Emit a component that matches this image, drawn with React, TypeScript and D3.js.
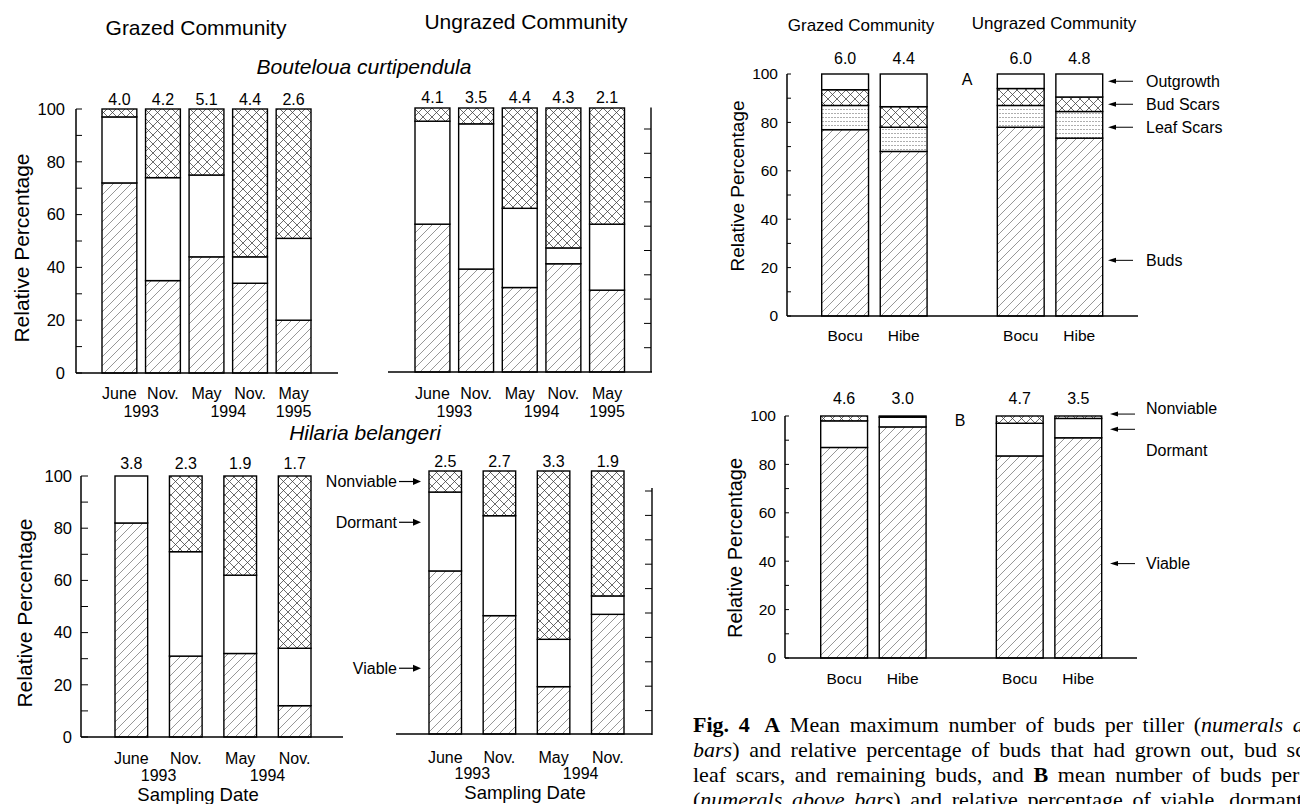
import React from "react";
import * as d3 from "d3";

const SANS = "'Liberation Sans', Arial, Helvetica, sans-serif";
const SERIF = "'Liberation Serif', 'Times New Roman', serif";

// ---- data ----
const bocuDates = ["June", "Nov.", "May", "Nov.", "May"];
const bocuYears: [string, number, number][] = [["1993", 0, 1], ["1994", 2, 3], ["1995", 4, 4]];
const hibeDates = ["June", "Nov.", "May", "Nov."];
const hibeYears: [string, number, number][] = [["1993", 0, 1], ["1994", 2, 3]];

const bocuGrazedViable = [72, 35, 44, 34, 20];
const bocuGrazedDormant = [25, 39, 31, 10, 31];
const bocuGrazedNonviable = [3, 26, 25, 56, 49];
const bocuGrazedMean = ["4.0", "4.2", "5.1", "4.4", "2.6"];

const bocuUngrazedViable = [56, 39, 32, 41, 31];
const bocuUngrazedDormant = [39, 55, 30, 6, 25];
const bocuUngrazedNonviable = [5, 6, 38, 53, 44];
const bocuUngrazedMean = ["4.1", "3.5", "4.4", "4.3", "2.1"];

const hibeGrazedViable = [82, 31, 32, 12];
const hibeGrazedDormant = [18, 40, 30, 22];
const hibeGrazedNonviable = [0, 29, 38, 66];
const hibeGrazedMean = ["3.8", "2.3", "1.9", "1.7"];

const hibeUngrazedViable = [62, 45, 18, 45.5];
const hibeUngrazedDormant = [30, 38, 18, 7];
const hibeUngrazedNonviable = [8, 17, 64, 47.5];
const hibeUngrazedMean = ["2.5", "2.7", "3.3", "1.9"];

const communities = ["Grazed Community", "Ungrazed Community"];
const speciesCodes = ["Bocu", "Hibe"];

const budsA = [77, 68, 78, 73.5];
const leafScarsA = [10, 10, 9, 11];
const budScarsA = [6.5, 8.5, 7, 6];
const outgrowthA = [6.5, 13.5, 6, 9.5];
const meanA = ["6.0", "4.4", "6.0", "4.8"];

const viableB = [87, 95.5, 83.5, 91];
const dormantB = [11, 4, 13.5, 8];
const nonviableB = [2, 0.5, 3, 1];
const meanB = ["4.6", "3.0", "4.7", "3.5"];

const hibeArrowLabels = ["Nonviable", "Dormant", "Viable"];
const hibeArrowLevels = [96, 80.5, 25];
const aLabels = ["Outgrowth", "Bud Scars", "Leaf Scars", "Buds"];
const aLevels = [97, 87.5, 78, 23];
const bLabels = ["Nonviable", "Dormant", "Viable"];
const bLabelLevels = [103, 85.6, 39];
const bArrowLevels = [100.8, 94.5, 39];

const captionLines = [
  [["b", "Fig. 4"], ["B", " A"], ["n", " Mean maximum number of buds per tiller ("], ["i", "numerals above"]],
  [["i", "bars"], ["n", ") and relative percentage of buds that had grown out, bud scars,"]],
  [["n", "leaf scars, and remaining buds, and "], ["b", "B"], ["n", " mean number of buds per tiller"]],
  [["n", "("], ["i", "numerals above bars"], ["n", ") and relative percentage of viable, dormant"]],
];

// ---- scales ----
const yTL = d3.scaleLinear().domain([0, 100]).range([373, 109]);
const xTL = d3.scaleBand<number>().domain(d3.range(5)).range([102, 311]).paddingInner(0.2);
const yTM = d3.scaleLinear().domain([0, 100]).range([372, 108]);
const xTM = d3.scaleBand<number>().domain(d3.range(5)).range([415, 624.5]).paddingInner(0.2);
const yTMr = d3.scaleLinear().domain([0, 100]).range([372, 129]);
const yBL = d3.scaleLinear().domain([0, 100]).range([737, 476]);
const xBL = d3.scaleBand<number>().domain(d3.range(4)).range([115, 311]).paddingInner(0.4);
const yBM = d3.scaleLinear().domain([0, 100]).range([734, 471]);
const xBM = d3.scaleBand<number>().domain(d3.range(4)).range([429, 624]).paddingInner(0.4);
const yBMr = d3.scaleLinear().domain([0, 100]).range([735, 491]);

const yRA = d3.scaleLinear().domain([0, 100]).range([316, 74]);
const gRA = d3.scaleBand<number>().domain([0, 1]).range([821.7, 1102.7]).paddingInner(0.4);
const yRB = d3.scaleLinear().domain([0, 100]).range([658, 416]);
const gRB = d3.scaleBand<number>().domain([0, 1]).range([820.7, 1101.7]).paddingInner(0.4);
const inner = (g: d3.ScaleBand<number>) =>
  d3.scaleBand<number>().domain([0, 1]).range([0, g.bandwidth()]).paddingInner(0.2);

const TICKS = d3.range(0, 101, 10);

type Layer = { values: number[]; fill: string };

function Bars({ layers, xPos, bw, y }: { layers: Layer[]; xPos: (i: number) => number; bw: number; y: d3.ScaleLinear<number, number> }) {
  const n = layers[0].values.length;
  const keys = layers.map((_, k) => "k" + k);
  const rows = d3.range(n).map((i) => Object.fromEntries(layers.map((l, k) => ["k" + k, l.values[i]])));
  const stacked = d3.stack<any>().keys(keys)(rows);
  return (
    <g>
      {stacked.map((s, k) =>
        s.map((d, i) =>
          d[1] - d[0] > 0 ? (
            <rect key={k + "-" + i} x={xPos(i)} width={bw} y={y(d[1])} height={y(d[0]) - y(d[1])}
              fill={layers[k].fill} stroke="#000" strokeWidth={1.4} />
          ) : null
        )
      )}
    </g>
  );
}

function LeftAxis({ x, y, tickLen, fontSize, gap }: any) {
  return (
    <g>
      <line x1={x} x2={x} y1={y(0)} y2={y(100)} stroke="#000" strokeWidth={1.5} />
      {TICKS.map((t) => (
        <g key={t}>
          <line x1={x} x2={x + tickLen} y1={y(t)} y2={y(t)} stroke="#000" strokeWidth={1} />
          {t % 20 === 0 && (
            <text x={x - gap} y={y(t)} dy="0.35em" textAnchor="end" fontSize={fontSize}>{t}</text>
          )}
        </g>
      ))}
    </g>
  );
}

function RightTicks({ x, y, top }: any) {
  return (
    <g>
      <line x1={x} x2={x} y1={y(0)} y2={top} stroke="#000" strokeWidth={1.4} />
      {TICKS.slice(1).map((t) => (
        <line key={t} x1={x - 7} x2={x} y1={y(t)} y2={y(t)} stroke="#000" strokeWidth={1} />
      ))}
    </g>
  );
}

function YTitle({ x, y, size, children }: any) {
  return (
    <text transform={`translate(${x},${y}) rotate(-90)`} dy="0.35em" textAnchor="middle" fontSize={size}>{children}</text>
  );
}

function ArrowRight({ x1, x2, y }: any) {
  return (
    <g>
      <line x1={x1} x2={x2 - 6} y1={y} y2={y} stroke="#000" strokeWidth={1.2} />
      <path d={`M${x2},${y} L${x2 - 8},${y - 3.5} L${x2 - 8},${y + 3.5} Z`} fill="#000" />
    </g>
  );
}

function ArrowLeft({ x1, x2, y }: any) {
  return (
    <g>
      <line x1={x1 + 6} x2={x2} y1={y} y2={y} stroke="#000" strokeWidth={1} />
      <path d={`M${x1},${y} L${x1 + 8},${y - 2.5} L${x1 + 8},${y + 2.5} Z`} fill="#000" />
    </g>
  );
}

function DatePanel({ x, y, dates, years, means, viable, dormant, nonviable, axisFrom, axisTo, meanOff, dateOff, yearOff }: any) {
  const bw = x.bandwidth();
  const cx = (i: number) => x(i) + bw / 2;
  return (
    <g>
      <Bars xPos={(i) => x(i)} bw={bw} y={y}
        layers={[{ values: viable, fill: "url(#hatch)" }, { values: dormant, fill: "#fff" }, { values: nonviable, fill: "url(#cross)" }]} />
      <line x1={axisFrom} x2={axisTo} y1={y(0)} y2={y(0)} stroke="#000" strokeWidth={1.6} />
      {means.map((m: string, i: number) => (
        <text key={i} x={cx(i)} y={y(100) - meanOff} dy="0.35em" textAnchor="middle" fontSize={16}>{m}</text>
      ))}
      {dates.map((d: string, i: number) => (
        <text key={i} x={cx(i)} y={y(0) + dateOff} dy="0.35em" textAnchor="middle" fontSize={16}>{d}</text>
      ))}
      {years.map(([lab, a, b]: any) => (
        <text key={lab} x={(cx(a) + cx(b)) / 2} y={y(0) + yearOff} dy="0.35em" textAnchor="middle" fontSize={16}>{lab}</text>
      ))}
    </g>
  );
}

function SpeciesPanel({ g, y, layers, means, axisX, axisTo, meanOff, labOff }: any) {
  const inn = inner(g);
  const xPos = (i: number) => g(Math.floor(i / 2)) + inn(i % 2);
  const bw = inn.bandwidth();
  return (
    <g>
      <Bars xPos={xPos} bw={bw} y={y} layers={layers} />
      <line x1={axisX} x2={axisTo} y1={y(0)} y2={y(0)} stroke="#000" strokeWidth={1.6} />
      <LeftAxis x={axisX} y={y} tickLen={4} fontSize={15.5} gap={9} />
      {means.map((m: string, i: number) => (
        <text key={i} x={xPos(i) + bw / 2} y={y(100) - meanOff} dy="0.35em" textAnchor="middle" fontSize={16}>{m}</text>
      ))}
      {means.map((_: string, i: number) => (
        <text key={i} x={xPos(i) + bw / 2} y={y(0) + labOff} dy="0.35em" textAnchor="middle" fontSize={15.5}>{speciesCodes[i % 2]}</text>
      ))}
    </g>
  );
}

export default function App() {
  return (
    <div style={{ position: "absolute", left: 0, top: 0 }}>
      <svg width={1300} height={804} style={{ display: "block", background: "#fff" }} fontFamily={SANS} fill="#000">
        <defs>
          <pattern id="hatch" patternUnits="userSpaceOnUse" width={9} height={9}>
            <rect width={9} height={9} fill="#fff" />
            <path d="M-1,1 L1,-1 M0,9 L9,0 M8,10 L10,8" stroke="#6a6a6a" strokeWidth={0.7} />
          </pattern>
          <pattern id="cross" patternUnits="userSpaceOnUse" width={9} height={9}>
            <rect width={9} height={9} fill="#fff" />
            <path d="M0,0 L9,9 M9,0 L0,9" stroke="#3a3a3a" strokeWidth={0.75} />
          </pattern>
          <pattern id="leaf" patternUnits="userSpaceOnUse" width={3} height={4}>
            <rect width={3} height={4} fill="#fff" />
            <rect x={0} y={1} width={2} height={0.8} fill="#9a9a9a" />
          </pattern>
        </defs>

        {/* titles */}
        <text x={196} y={28} dy="0.35em" textAnchor="middle" fontSize={21}>{communities[0]}</text>
        <text x={526} y={22} dy="0.35em" textAnchor="middle" fontSize={21}>{communities[1]}</text>
        <text x={364} y={67} dy="0.35em" textAnchor="middle" fontSize={21} fontStyle="italic">Bouteloua curtipendula</text>
        <text x={365} y={433} dy="0.35em" textAnchor="middle" fontSize={21} fontStyle="italic">Hilaria belangeri</text>

        {/* Bouteloua grazed */}
        <DatePanel x={xTL} y={yTL} dates={bocuDates} years={bocuYears} means={bocuGrazedMean}
          viable={bocuGrazedViable} dormant={bocuGrazedDormant} nonviable={bocuGrazedNonviable}
          axisFrom={76} axisTo={338} meanOff={10} dateOff={20} yearOff={38} />
        <LeftAxis x={76} y={yTL} tickLen={6} fontSize={16.5} gap={11} />
        <YTitle x={22} y={248} size={21}>Relative Percentage</YTitle>

        {/* Bouteloua ungrazed */}
        <DatePanel x={xTM} y={yTM} dates={bocuDates} years={bocuYears} means={bocuUngrazedMean}
          viable={bocuUngrazedViable} dormant={bocuUngrazedDormant} nonviable={bocuUngrazedNonviable}
          axisFrom={388} axisTo={652} meanOff={11} dateOff={21} yearOff={39} />
        <RightTicks x={651} y={yTMr} top={107.5} />

        {/* Hilaria grazed */}
        <DatePanel x={xBL} y={yBL} dates={hibeDates} years={hibeYears} means={hibeGrazedMean}
          viable={hibeGrazedViable} dormant={hibeGrazedDormant} nonviable={hibeGrazedNonviable}
          axisFrom={81} axisTo={343} meanOff={13} dateOff={21} yearOff={38} />
        <LeftAxis x={81} y={yBL} tickLen={7} fontSize={16.5} gap={9} />
        <YTitle x={25} y={613} size={21}>Relative Percentage</YTitle>
        <text x={198} y={795} dy="0.35em" textAnchor="middle" fontSize={18.5}>Sampling Date</text>

        {/* Hilaria ungrazed */}
        <DatePanel x={xBM} y={yBM} dates={hibeDates} years={hibeYears} means={hibeUngrazedMean}
          viable={hibeUngrazedViable} dormant={hibeUngrazedDormant} nonviable={hibeUngrazedNonviable}
          axisFrom={396} axisTo={652} meanOff={10} dateOff={23} yearOff={39} />
        <RightTicks x={652} y={yBMr} top={488} />
        <text x={525} y={793} dy="0.35em" textAnchor="middle" fontSize={18.5}>Sampling Date</text>
        {hibeArrowLabels.map((lab, i) => (
          <g key={lab}>
            <text x={397} y={yBM(hibeArrowLevels[i])} dy="0.35em" textAnchor="end" fontSize={16}>{lab}</text>
            <ArrowRight x1={399} x2={421} y={yBM(hibeArrowLevels[i])} />
          </g>
        ))}

        {/* Panel A */}
        <text x={861} y={25} dy="0.35em" textAnchor="middle" fontSize={17}>{communities[0]}</text>
        <text x={1054} y={23} dy="0.35em" textAnchor="middle" fontSize={17}>{communities[1]}</text>
        <SpeciesPanel g={gRA} y={yRA} means={meanA} axisX={787} axisTo={1138} meanOff={16} labOff={20}
          layers={[
            { values: budsA, fill: "url(#hatch)" },
            { values: leafScarsA, fill: "url(#leaf)" },
            { values: budScarsA, fill: "url(#cross)" },
            { values: outgrowthA, fill: "#fff" },
          ]} />
        <text x={967} y={79} dy="0.35em" textAnchor="middle" fontSize={16}>A</text>
        <YTitle x={737} y={186} size={19}>Relative Percentage</YTitle>
        {aLabels.map((lab, i) => (
          <g key={lab}>
            <ArrowLeft x1={1108} x2={1133} y={yRA(aLevels[i])} />
            <text x={1146} y={yRA(aLevels[i])} dy="0.35em" fontSize={16}>{lab}</text>
          </g>
        ))}

        {/* Panel B */}
        <SpeciesPanel g={gRB} y={yRB} means={meanB} axisX={785} axisTo={1137} meanOff={18} labOff={21}
          layers={[
            { values: viableB, fill: "url(#hatch)" },
            { values: dormantB, fill: "#fff" },
            { values: nonviableB, fill: "url(#cross)" },
          ]} />
        <text x={960} y={420} dy="0.35em" textAnchor="middle" fontSize={16}>B</text>
        <YTitle x={735} y={548} size={20}>Relative Percentage</YTitle>
        {bArrowLevels.map((lv, i) => (
          <ArrowLeft key={i} x1={1110} x2={1135} y={yRB(lv)} />
        ))}
        {bLabels.map((lab, i) => (
          <text key={lab} x={1146} y={yRB(bLabelLevels[i])} dy="0.35em" fontSize={16}>{lab}</text>
        ))}

        {/* caption (justified in the original, running past the right edge) */}
        {captionLines.map((parts, li) => (
          <text key={li} x={693} y={732 + li * 25} fontFamily={SERIF} fontSize={22}
            style={{ whiteSpace: "pre", wordSpacing: "4.2px" }}>
            {parts.map(([st, t], k) => (
              <tspan key={k} dx={st === "B" ? 6 : undefined}
                fontWeight={st === "b" || st === "B" ? "bold" : "normal"}
                fontStyle={st === "i" ? "italic" : "normal"}>{t}</tspan>
            ))}
          </text>
        ))}
      </svg>
    </div>
  );
}
